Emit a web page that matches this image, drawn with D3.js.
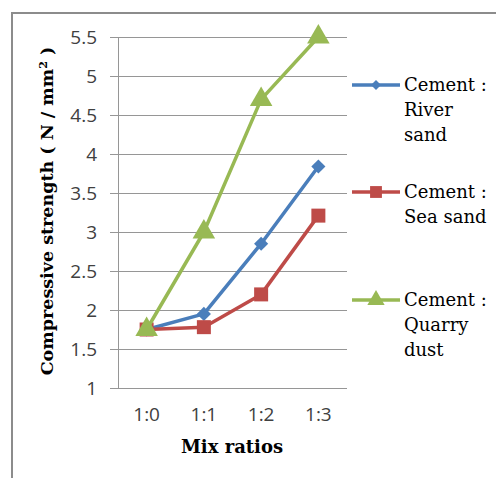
<!DOCTYPE html>
<html><head><meta charset="utf-8">
<script src="https://cdn.jsdelivr.net/npm/d3@7"></script>
<style>body{margin:0;background:#fff}</style>
</head><body>
<svg id="c" width="496" height="478"></svg>
<script>
const categories = ["1:0","1:1","1:2","1:3"];
const riverSand = [1.75, 1.95, 2.85, 3.84];
const seaSand = [1.75, 1.78, 2.2, 3.21];
const quarryDust = [1.75, 3.0, 4.7, 5.5];
const yTicks = [1,1.5,2,2.5,3,3.5,4,4.5,5,5.5];
const seriesNames = [["Cement :","River","sand"],["Cement :","Sea sand"],["Cement :","Quarry","dust"]];

const svg = d3.select("#c");
const serif = "'DejaVu Serif', serif";
const sans = "'Open Sans', 'Liberation Sans', sans-serif";

svg.append("path").attr("d","M12,478 L12,13 L496,13").attr("fill","none").attr("stroke","#8c8c8c").attr("stroke-width",2);

const x = d3.scaleBand().domain(categories).range([118,347]);
const y = d3.scaleLinear().domain([1,5.5]).range([388,37]);

svg.append("g").selectAll("line").data(yTicks).join("line")
  .attr("x1",110).attr("x2",347).attr("y1",d=>Math.round(y(d))+0.5).attr("y2",d=>Math.round(y(d))+0.5)
  .attr("stroke","#969696").attr("stroke-width",1);
svg.append("line").attr("x1",118.5).attr("x2",118.5).attr("y1",y(5.5)).attr("y2",y(1)).attr("stroke","#969696");

const yAxis = d3.axisLeft(y).tickValues(yTicks).tickSize(0).tickPadding(21).tickFormat(d=>d);
const ga = svg.append("g").attr("transform","translate(118,0)").call(yAxis);
ga.select(".domain").remove();
ga.selectAll("text").attr("font-family",sans).attr("font-size",19).attr("fill","#404040");

const xAxis = d3.axisBottom(x).tickSize(0).tickPadding(20);
const gx = svg.append("g").attr("transform","translate(0,388)").call(xAxis);
gx.select(".domain").remove();
gx.selectAll("text").attr("font-family",sans).attr("font-size",19).attr("fill","#404040");

svg.append("text").attr("x",232).attr("y",453).attr("text-anchor","middle")
  .attr("font-family",serif).attr("font-weight","bold").attr("font-size",18).attr("fill","#000").text("Mix ratios");

const yl = svg.append("text").attr("transform","translate(53,211) rotate(-90)").attr("text-anchor","middle")
  .attr("font-family",serif).attr("font-weight","bold").attr("font-size",17.5).attr("fill","#000");
yl.append("tspan").text("Compressive strength ( N / mm");
yl.append("tspan").attr("baseline-shift","super").attr("font-size",11).text("2");
yl.append("tspan").text(" )");

const series = [
  {vals: riverSand, color:"#4a7ebb", sym:d3.symbolSquare, size:100, rot:45, lsize:50},
  {vals: seaSand, color:"#be4b48", sym:d3.symbolSquare, size:196, rot:0, lsize:140},
  {vals: quarryDust, color:"#98b954", sym:d3.symbolTriangle, size:220, rot:0, lsize:130}
];
const line = d3.line().x((d,i)=>x(categories[i])+x.bandwidth()/2).y(d=>y(d));
const legY = [85,192,300];
series.forEach((s,k)=>{
  svg.append("path").attr("d",line(s.vals)).attr("fill","none").attr("stroke",s.color).attr("stroke-width",3.5).attr("stroke-linejoin","round");
  svg.append("g").selectAll("path").data(s.vals).join("path")
    .attr("d",d3.symbol().type(s.sym).size(s.size))
    .attr("transform",(d,i)=>`translate(${x(categories[i])+x.bandwidth()/2},${y(d)}) rotate(${s.rot})`)
    .attr("fill",s.color);
});
series.forEach((s,k)=>{
  const ly = legY[k];
  svg.append("line").attr("x1",352).attr("x2",400).attr("y1",ly).attr("y2",ly).attr("stroke",s.color).attr("stroke-width",3.5);
  svg.append("path").attr("d",d3.symbol().type(s.sym).size(s.lsize)).attr("transform",`translate(376,${ly}) rotate(${s.rot})`).attr("fill",s.color);
  const t = svg.append("text").attr("font-family",serif).attr("font-size",18).attr("fill","#000");
  seriesNames[k].forEach((ln,j)=>{
    t.append("tspan").attr("x",404).attr("y",ly+6+j*25).text(ln);
  });
});
</script>
</body></html>
